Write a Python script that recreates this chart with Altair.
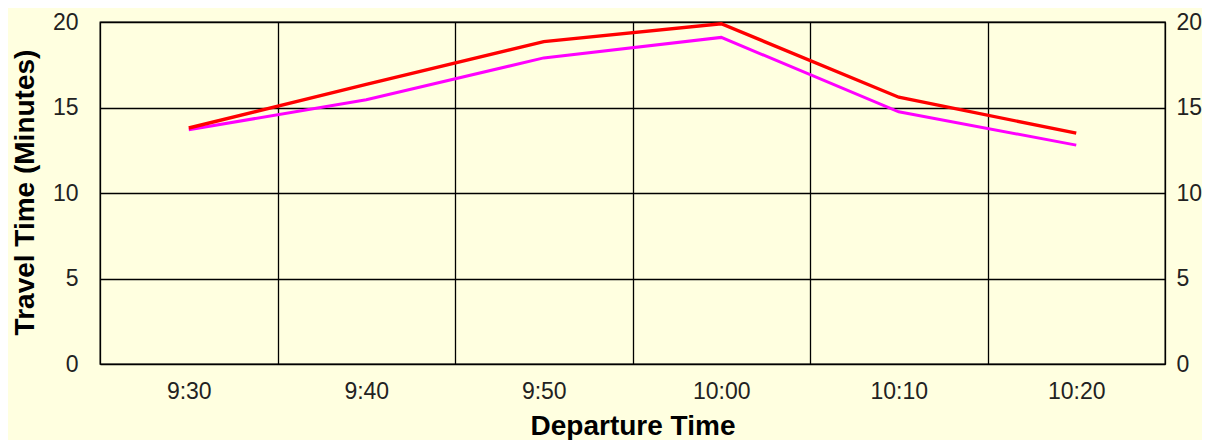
import altair as alt
import pandas as pd

departure_times = ["9:30", "9:40", "9:50", "10:00", "10:10", "10:20"]
red_series = [13.8, 16.35, 18.85, 19.9, 15.6, 13.5]
magenta_series = [13.7, 15.45, 17.9, 19.1, 14.75, 12.8]
y_ticks = [0, 5, 10, 15, 20]

df_red = pd.DataFrame({"time": departure_times, "minutes": red_series})
df_mag = pd.DataFrame({"time": departure_times, "minutes": magenta_series})

W, H = 1065, 342
FONT = "Liberation Sans"

x_enc = alt.X(
    "time:N",
    sort=departure_times,
    bandPosition=0.5,
    scale=alt.Scale(type="band", paddingInner=0, paddingOuter=0),
    axis=alt.Axis(
        title="Departure Time",
        grid=True,
        gridColor="black",
        gridWidth=1.3,
        gridOpacity=1,
        tickBand="extent",
        ticks=False,
        tickSize=0,
        domain=False,
        labelAngle=0,
        labelPadding=16,
        labelFontSize=23,
        labelFont=FONT,
        labelColor="#222222",
        titleFont=FONT,
        titleFontSize=28,
        titleFontWeight="bold",
        titleColor="black",
        titleX=W / 2,
        titleY=70,
        titleAlign="center",
        titleBaseline="alphabetic",
    ),
)

y_scale = alt.Scale(domain=[0, 20], nice=False, zero=True)

mag = alt.Chart(df_mag).mark_line(color="#FF00FF", strokeWidth=3).encode(
    x=x_enc,
    y=alt.Y(
        "minutes:Q",
        scale=y_scale,
        axis=alt.Axis(
            orient="left",
            title="Travel Time (Minutes)",
            values=y_ticks,
            grid=True,
            gridColor="black",
            gridWidth=1.3,
            gridOpacity=1,
            ticks=False,
            tickSize=0,
            domain=False,
            labelPadding=22,
            labelFontSize=23,
            labelFont=FONT,
            labelColor="#222222",
            titleFont=FONT,
            titleFontSize=28,
            titleFontWeight="bold",
            titleColor="black",
            titleAngle=270,
            titleX=-67,
            titleY=170,
            titleAlign="center",
            titleBaseline="alphabetic",
        ),
    ),
)

red = alt.Chart(df_red).mark_line(color="#FF0000", strokeWidth=3.4).encode(
    x=x_enc,
    y=alt.Y(
        "minutes:Q",
        scale=y_scale,
        axis=alt.Axis(
            orient="right",
            title=None,
            values=y_ticks,
            grid=False,
            ticks=False,
            tickSize=0,
            domain=False,
            labelPadding=11,
            labelFontSize=23,
            labelFont=FONT,
            labelColor="#222222",
        ),
    ),
)

chart = (
    alt.layer(mag, red)
    .resolve_axis(y="independent")
    .properties(
        width=W,
        height=H,
        autosize=alt.AutoSizeParams(type="none"),
        padding={"left": 92, "top": 14, "right": 37, "bottom": 76},
        background="#FFFFE0",
    )
    .configure_view(stroke="black", strokeWidth=1.3, fill="#FFFFE0")
)

chart.save("out.html", embed_options={"renderer": "svg", "actions": False})
